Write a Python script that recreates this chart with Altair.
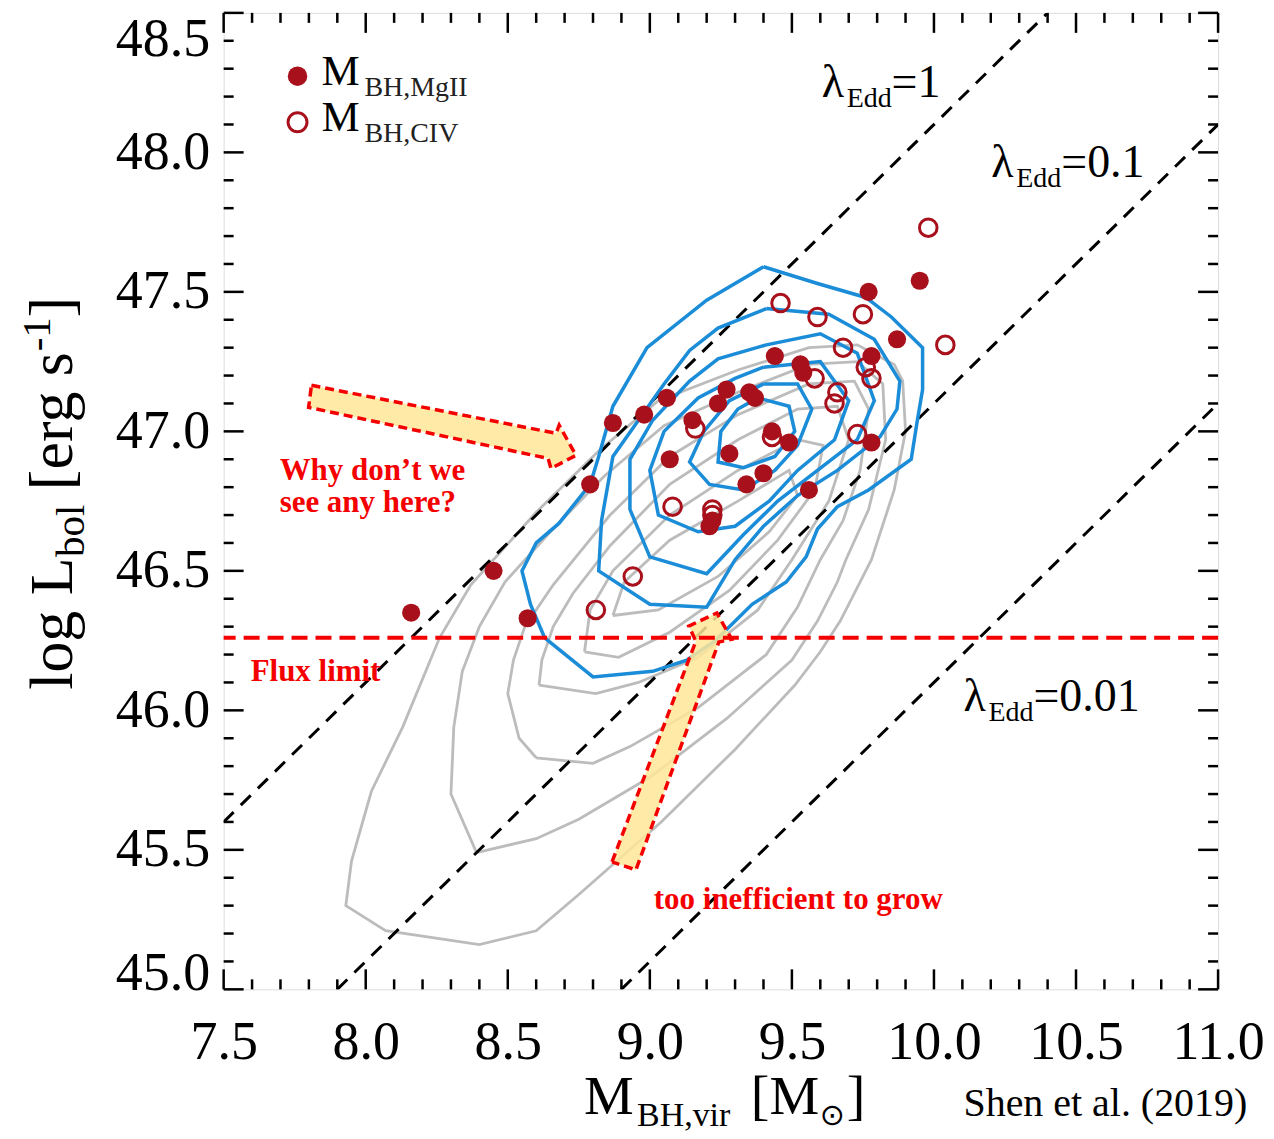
import math
import altair as alt
import pandas as pd

SERIF = "Liberation Serif"
RED_PT = "#a8101c"
BLUE = "#1a8cd8"
GRAY = "#bcbcbc"
ANN_RED = "#f50000"
YELLOW = "#ffe699"

W, H = 996, 978
X_DOMAIN = [7.5, 11.0]
Y_DOMAIN = [45.0, 48.5]

x_major = [7.5, 8.0, 8.5, 9.0, 9.5, 10.0, 10.5, 11.0]
y_major = [45.0, 45.5, 46.0, 46.5, 47.0, 47.5, 48.0, 48.5]
x_minor = [round(7.5 + 0.1 * i, 1) for i in range(1, 35) if i % 5]
y_minor = [round(45.0 + 0.1 * i, 1) for i in range(1, 35) if i % 5]

# filled points: M_BH from MgII
mgii_x = [8.16, 8.45, 8.57, 8.79, 8.87, 8.98, 9.06, 9.07, 9.15, 9.22, 9.21, 9.24, 9.27,
          9.28, 9.34, 9.35, 9.37, 9.40, 9.44, 9.43, 9.49, 9.53, 9.54, 9.56, 9.77, 9.78,
          9.78, 9.87, 9.95]
mgii_y = [46.35, 46.50, 46.33, 46.81, 47.03, 47.06, 47.12, 46.90, 47.04, 46.68, 46.66, 47.10, 47.15,
          46.92, 46.81, 47.14, 47.12, 46.85, 47.27, 47.00, 46.96, 47.24, 47.21, 46.79, 47.50, 47.27,
          46.96, 47.33, 47.54]

# open points: M_BH from CIV
civ_x = [8.81, 8.94, 9.08, 9.16, 9.22, 9.22, 9.46, 9.59, 9.58, 9.68, 9.75, 9.66, 9.65,
         9.73, 9.76, 9.78, 9.98, 10.04, 9.43]
civ_y = [46.36, 46.48, 46.73, 47.01, 46.72, 46.70, 47.46, 47.41, 47.19, 47.30, 47.42, 47.14, 47.10,
         46.99, 47.23, 47.19, 47.73, 47.31, 46.98]

# Eddington ratio lines: log L = log M + 38.1 + log lambda
lambda_edd = [1.0, 0.1, 0.01]
LEDD = 38.1
flux_limit = 46.26

# blue contours
blue_c1 = [(9.40, 47.59), (9.59, 47.53), (9.76, 47.48), (9.85, 47.41), (9.96, 47.30), (9.96, 47.15),
           (9.94, 47.03), (9.92, 46.90), (9.77, 46.79), (9.66, 46.73), (9.59, 46.65), (9.55, 46.55),
           (9.48, 46.46), (9.36, 46.38), (9.28, 46.30), (9.23, 46.25), (9.13, 46.18), (9.01, 46.14),
           (8.80, 46.12), (8.63, 46.26), (8.58, 46.38), (8.55, 46.50), (8.60, 46.60), (8.68, 46.67),
           (8.79, 46.81), (8.82, 46.91), (8.87, 47.09), (8.99, 47.30), (9.20, 47.47), (9.40, 47.59)]
blue_c2 = [(9.41, 47.44), (9.63, 47.42), (9.79, 47.33), (9.88, 47.18), (9.87, 47.08), (9.81, 46.98),
           (9.66, 46.86), (9.52, 46.77), (9.40, 46.66), (9.30, 46.54), (9.20, 46.37), (9.00, 46.38),
           (8.82, 46.50), (8.83, 46.68), (8.87, 46.91), (8.96, 47.04), (9.05, 47.17), (9.14, 47.29),
           (9.24, 47.37), (9.41, 47.44)]
blue_c3 = [(9.41, 47.31), (9.60, 47.35), (9.73, 47.28), (9.79, 47.11), (9.73, 46.97), (9.59, 46.86),
           (9.45, 46.75), (9.33, 46.63), (9.20, 46.49), (9.00, 46.55), (8.93, 46.72), (8.93, 46.90),
           (9.01, 47.04), (9.14, 47.18), (9.24, 47.26), (9.41, 47.31)]
blue_c4 = [(9.40, 47.23), (9.60, 47.25), (9.70, 47.11), (9.65, 46.97), (9.52, 46.86), (9.42, 46.75),
           (9.30, 46.66), (9.17, 46.64), (9.03, 46.70), (9.00, 46.86), (9.05, 47.00), (9.17, 47.12),
           (9.30, 47.19), (9.40, 47.23)]
blue_c5 = [(9.40, 47.17), (9.52, 47.17), (9.57, 47.08), (9.52, 46.95), (9.44, 46.86), (9.33, 46.79),
           (9.21, 46.81), (9.14, 46.89), (9.19, 47.00), (9.28, 47.11), (9.40, 47.17)]
blue_c6 = [(9.38, 47.12), (9.49, 47.09), (9.51, 47.00), (9.44, 46.91), (9.33, 46.87), (9.24, 46.89),
           (9.25, 47.00), (9.31, 47.08), (9.38, 47.12)]

# gray contours
gray_g1 = [(8.82, 46.93), (9.03, 47.11), (9.31, 47.22), (9.56, 47.30), (9.73, 47.31), (9.86, 47.24),
           (9.89, 47.18), (9.90, 47.00), (9.86, 46.79), (9.78, 46.54), (9.73, 46.44), (9.67, 46.32),
           (9.60, 46.21), (9.51, 46.09), (9.30, 45.86), (9.04, 45.60), (8.75, 45.34), (8.60, 45.21),
           (8.40, 45.16), (8.07, 45.21), (7.93, 45.30), (7.95, 45.46), (8.02, 45.71), (8.13, 45.94),
           (8.26, 46.26), (8.37, 46.45), (8.60, 46.71), (8.82, 46.93)]
gray_g2 = [(8.39, 45.49), (8.30, 45.70), (8.31, 45.94), (8.34, 46.14), (8.40, 46.30), (8.49, 46.46),
           (8.65, 46.64), (8.84, 46.84), (9.05, 47.02), (9.31, 47.14), (9.56, 47.24), (9.73, 47.25),
           (9.82, 47.17), (9.83, 46.97), (9.77, 46.72), (9.69, 46.54), (9.66, 46.46), (9.59, 46.32),
           (9.50, 46.18), (9.27, 45.97), (9.00, 45.76), (8.75, 45.61), (8.60, 45.54), (8.39, 45.49)]
gray_g3 = [(8.60, 45.83), (8.54, 45.90), (8.50, 46.06), (8.52, 46.18), (8.56, 46.30), (8.66, 46.45),
           (8.86, 46.70), (9.07, 46.91), (9.31, 47.06), (9.56, 47.17), (9.72, 47.18), (9.77, 47.08),
           (9.74, 46.86), (9.68, 46.68), (9.60, 46.54), (9.52, 46.37), (9.41, 46.20), (9.17, 46.01),
           (8.93, 45.87), (8.80, 45.81), (8.60, 45.83)]
gray_g4 = [(8.61, 46.09), (8.62, 46.18), (8.66, 46.30), (8.73, 46.42), (8.86, 46.59), (9.07, 46.81),
           (9.31, 46.97), (9.52, 47.08), (9.66, 47.09), (9.70, 46.97), (9.63, 46.75), (9.50, 46.54),
           (9.38, 46.36), (9.17, 46.19), (8.96, 46.10), (8.81, 46.06), (8.61, 46.09)]
gray_g5 = [(8.77, 46.21), (8.79, 46.36), (8.87, 46.50), (9.07, 46.70), (9.31, 46.86), (9.52, 46.97),
           (9.61, 46.95), (9.58, 46.79), (9.45, 46.61), (9.28, 46.43), (9.07, 46.28), (8.89, 46.19),
           (8.77, 46.21)]
gray_g6 = [(8.87, 46.34), (8.91, 46.46), (9.07, 46.61), (9.31, 46.75), (9.49, 46.86), (9.52, 46.77),
           (9.42, 46.64), (9.24, 46.48), (9.03, 46.36), (8.87, 46.34)]

# annotation arrows (outline polygons, data units)
arrow_why = [(7.809, 47.165), (8.670, 46.993), (8.681, 47.022), (8.740, 46.914), (8.652, 46.867),
             (8.642, 46.903), (7.799, 47.086), (7.809, 47.165)]
arrow_ineff = [(8.867, 45.457), (9.162, 46.248), (9.137, 46.302), (9.236, 46.349), (9.288, 46.255),
               (9.243, 46.245), (8.951, 45.428), (8.867, 45.457)]

ann_text = ["Why don\u2019t we", "see any here?", "Flux limit", "too inefficient to grow"]
ann_x = [7.697, 7.697, 7.595, 9.014]
ann_y = [46.824, 46.712, 46.104, 45.288]

lam_lab_x = [9.605, 10.202, 10.104]
lam_lab_y = [48.198, 47.910, 45.996]
lam_lab_val = ["=1", "=0.1", "=0.01"]

legend_x = [7.76, 7.76]
legend_y = [48.273, 48.108]
legend_sub = ["BH,MgII", "BH,CIV"]


def poly_df(polys, prefix):
    rows = []
    for k, pts in enumerate(polys):
        for i, (x, y) in enumerate(pts):
            rows.append({"cid": f"{prefix}{k}", "i": i, "x": x, "y": y})
    return pd.DataFrame(rows)


xs = alt.Scale(domain=X_DOMAIN, nice=False, zero=False)
ys = alt.Scale(domain=Y_DOMAIN, nice=False, zero=False)
x_axis = alt.Axis(values=x_major, format=".1f", ticks=False, domain=False, grid=False,
                  labelFont=SERIF, labelFontSize=54, labelPadding=26, labelColor="black",
                  labelFlush=False, labelOverlap=False)
y_axis = alt.Axis(values=y_major, format=".1f", ticks=False, domain=False, grid=False,
                  labelFont=SERIF, labelFontSize=54, labelPadding=14, labelColor="black",
                  labelFlush=False, labelOverlap=False,
                  labelBaseline={"condition": [{"test": "datum.value >= 48.49", "value": "top"},
                                               {"test": "datum.value <= 45.01", "value": "alphabetic"}],
                                 "value": "middle"})


def X():
    return alt.X("x:Q", scale=xs, axis=x_axis, title=None)


def Y():
    return alt.Y("y:Q", scale=ys, axis=y_axis, title=None)


gray_df = poly_df([gray_g1, gray_g2, gray_g3, gray_g4, gray_g5, gray_g6], "g")
blue_df = poly_df([blue_c1, blue_c2, blue_c3, blue_c4, blue_c5, blue_c6], "b")
arrow_df = poly_df([arrow_why, arrow_ineff], "a")

lam_rows = []
for lam in lambda_edd:
    off = LEDD + math.log10(lam)
    xa = max(X_DOMAIN[0], Y_DOMAIN[0] - off)
    xb = min(X_DOMAIN[1], Y_DOMAIN[1] - off)
    lam_rows.append({"lam": str(lam), "x": xa, "y": xa + off})
    lam_rows.append({"lam": str(lam), "x": xb, "y": xb + off})
lam_df = pd.DataFrame(lam_rows)

layers = []

layers.append(alt.Chart(gray_df).mark_line(color=GRAY, strokeWidth=2.8, clip=True).encode(
    x=X(), y=Y(), detail="cid:N", order="i:Q"))
layers.append(alt.Chart(lam_df).mark_line(color="black", strokeWidth=3, strokeDash=[14, 10], clip=True).encode(
    x=X(), y=Y(), detail="lam:N"))
layers.append(alt.Chart(blue_df).mark_line(color=BLUE, strokeWidth=3.5, clip=True).encode(
    x=X(), y=Y(), detail="cid:N", order="i:Q"))

civ_df = pd.DataFrame({"x": civ_x, "y": civ_y})
mg_df = pd.DataFrame({"x": mgii_x, "y": mgii_y})
layers.append(alt.Chart(civ_df).mark_point(shape="circle", filled=False, color=RED_PT, size=310,
                                           strokeWidth=3, opacity=1).encode(x=X(), y=Y()))
layers.append(alt.Chart(mg_df).mark_circle(color=RED_PT, size=330, opacity=1).encode(x=X(), y=Y()))

# arrows
layers.append(alt.Chart(arrow_df).mark_line(fill=YELLOW, fillOpacity=0.85, stroke=ANN_RED, color=ANN_RED,
                                            strokeWidth=3.5, strokeDash=[9, 5]).encode(
    x=X(), y=Y(), detail="cid:N", order="i:Q"))

# flux limit
layers.append(alt.Chart(pd.DataFrame({"y": [flux_limit]})).mark_rule(
    color=ANN_RED, strokeWidth=4, strokeDash=[16, 8]).encode(y=Y()))

# annotation texts
ann_df = pd.DataFrame({"x": ann_x, "y": ann_y, "t": ann_text})
layers.append(alt.Chart(ann_df).mark_text(align="left", baseline="alphabetic", font=SERIF,
                                          fontWeight="bold", fontSize=31, color=ANN_RED).encode(
    x=X(), y=Y(), text="t:N"))

# lambda labels
lam_lab_df = pd.DataFrame({"x": lam_lab_x, "y": lam_lab_y, "v": lam_lab_val,
                           "l": ["\u03bb"] * 3, "s": ["Edd"] * 3})
layers.append(alt.Chart(lam_lab_df).mark_text(align="left", baseline="alphabetic", font=SERIF,
                                              fontSize=46, color="black").encode(x=X(), y=Y(), text="l:N"))
layers.append(alt.Chart(lam_lab_df).mark_text(align="left", baseline="alphabetic", font=SERIF,
                                              fontSize=28, color="black", dx=25, dy=10).encode(
    x=X(), y=Y(), text="s:N"))
layers.append(alt.Chart(lam_lab_df).mark_text(align="left", baseline="alphabetic", font=SERIF,
                                              fontSize=46, color="black", dx=70).encode(
    x=X(), y=Y(), text="v:N"))

# legend
leg_df = pd.DataFrame({"x": legend_x, "y": legend_y, "m": ["M", "M"], "s": legend_sub})
layers.append(alt.Chart(leg_df.iloc[[0]]).mark_circle(color=RED_PT, size=380, opacity=1).encode(x=X(), y=Y()))
layers.append(alt.Chart(leg_df.iloc[[1]]).mark_point(shape="circle", filled=False, color=RED_PT, size=360,
                                                     strokeWidth=3, opacity=1).encode(x=X(), y=Y()))
layers.append(alt.Chart(leg_df).mark_text(align="left", baseline="alphabetic", font=SERIF, fontSize=43,
                                          color="black", dx=24, dy=9).encode(x=X(), y=Y(), text="m:N"))
layers.append(alt.Chart(leg_df).mark_text(align="left", baseline="alphabetic", font=SERIF, fontSize=28,
                                          color="#222222", dx=67, dy=20).encode(x=X(), y=Y(), text="s:N"))


# inward ticks on all four sides
def xticks(vals, length, top):
    df = pd.DataFrame({"x": vals})
    if top:
        enc = dict(y=alt.value(0), y2=alt.value(length))
    else:
        enc = dict(y=alt.value(H), y2=alt.value(H - length))
    return alt.Chart(df).mark_rule(color="black", strokeWidth=2.5).encode(x=X(), **enc)


def yticks(vals, length, right):
    df = pd.DataFrame({"y": vals})
    if right:
        enc = dict(x=alt.value(W), x2=alt.value(W - length))
    else:
        enc = dict(x=alt.value(0), x2=alt.value(length))
    return alt.Chart(df).mark_rule(color="black", strokeWidth=2.5).encode(y=Y(), **enc)


for top in (False, True):
    layers.append(xticks(x_major, 20, top))
    layers.append(xticks(x_minor, 10, top))
for right in (False, True):
    layers.append(yticks(y_major, 20, right))
    layers.append(yticks(y_minor, 10, right))


# axis titles (composed text with sub/superscripts), pixel positions relative to plot
def label(text, px, py, size, angle=0, font=SERIF, color="black"):
    kw = dict(align="left", baseline="alphabetic", font=font, fontSize=size, color=color)
    if angle:
        kw["angle"] = angle
    return alt.Chart(pd.DataFrame({"t": [text]})).mark_text(**kw).encode(
        x=alt.value(px), y=alt.value(py), text="t:N")


layers += [
    label("log L", -152, 678, 62, 270),
    label("bol", -140, 545, 41, 270),
    label("[erg s", -152, 478, 62, 270),
    label("-1", -174, 339, 41, 270),
    label("]", -152, 305, 62, 270),
    label("M", 361, 1103, 56),
    label("BH,vir", 414, 1115, 34),
    label("[M", 528, 1103, 56),
    label("\u2299", 597, 1114, 30, font="DejaVu Sans"),
    label("]", 624, 1103, 56),
    label("Shen et al. (2019)", 741, 1105, 40),
]

chart = alt.layer(*layers).properties(
    width=W, height=H,
    autosize=alt.AutoSizeParams(type="none"),
    padding={"left": 216, "top": 4, "right": 48, "bottom": 144},
).configure_view(stroke="black", strokeWidth=3).configure(background="white")

chart.save("out.html", embed_options={"renderer": "svg", "actions": False})
